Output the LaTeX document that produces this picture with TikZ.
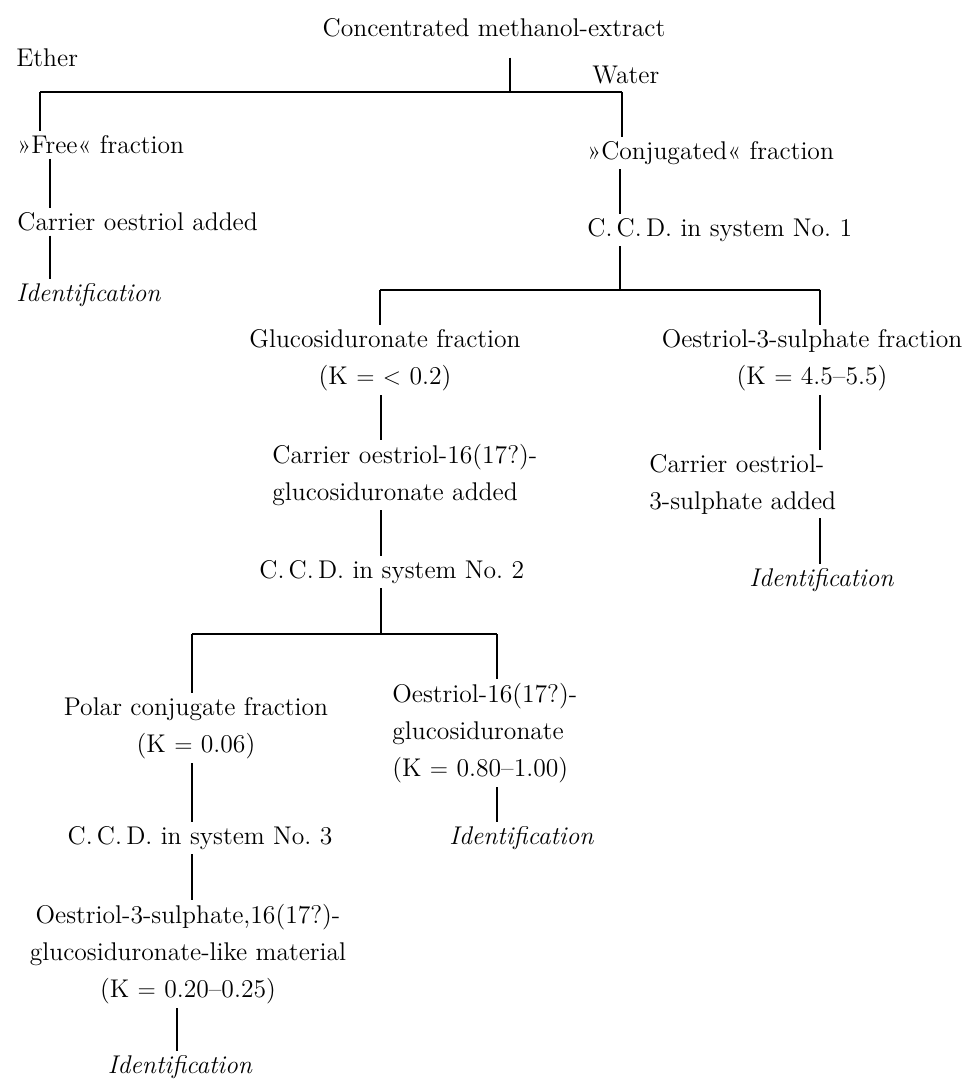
\documentclass[tikz,border=0pt]{standalone}
\usepackage{fontspec}
\newcommand\dgfont{\fontsize{12.8}{18.5}\selectfont}
\begin{document}
\begin{tikzpicture}[x=0.5pt,y=-0.5pt,
  txt/.style={inner sep=2pt, font=\dgfont, align=center},
  txtl/.style={inner sep=2pt, font=\dgfont, align=left, anchor=west},
  idf/.style={inner sep=2pt, font=\dgfont\itshape},
  conn/.style={line width=0.7pt},
  bus/.style={line width=1pt}]
\useasboundingbox (0,0) rectangle (965,1079);

% text nodes
\node[txt] (cme) at (494,28) {Concentrated methanol-extract};
\node[txtl] (ether) at (12,58) {Ether};
\node[txtl] (water) at (588,75) {Water};
\node[txtl] (free) at (13,145) {»Free« fraction};
\node[txtl] (carr) at (13,222) {Carrier oestriol added};
\node[idf, anchor=west] (id1) at (12,295) {Identification};
\node[txtl] (conj) at (583,153) {»Conjugated« fraction};
\node[txtl] (ccd1) at (583,230) {C.\,C.\,D. in system No.~1};
\node[txt] (gluc) at (385,360) {Glucosiduronate fraction\\(K $=$ $<$ 0.2)};
\node[txt] (sulf) at (812,360) {Oestriol-3-sulphate fraction\\(K $=$ 4.5--5.5)};
\node[txtl] (carr2) at (268,475) {Carrier oestriol-16(17?)-\\glucosiduronate added};
\node[txtl] (carr3) at (645,484) {Carrier oestriol-\\3-sulphate added};
\node[idf, anchor=west] (id2) at (745,580) {Identification};
\node[txtl] (ccd2) at (255,572) {C.\,C.\,D. in system No.~2};
\node[txt] (polar) at (196,728) {Polar conjugate fraction\\(K $=$ 0.06)};
\node[txtl] (oeg) at (388,733) {Oestriol-16(17?)-\\glucosiduronate\\(K $=$ 0.80--1.00)};
\node[idf, anchor=west] (id3) at (445,838) {Identification};
\node[txt] (ccd3) at (200,838) {C.\,C.\,D. in system No.~3};
\node[txt] (mat) at (188,954) {Oestriol-3-sulphate,16(17?)-\\glucosiduronate-like material\\(K $=$ 0.20--0.25)};
\node[idf] (id4) at (180,1067) {Identification};

% junctions and columns
\coordinate (j1) at (510,92);
\coordinate (j1l) at (40,92);
\coordinate (j1r) at (622,92);
\coordinate (j2) at (620,290);
\coordinate (j2l) at (380,290);
\coordinate (j2r) at (820,290);
\coordinate (j3) at (381,634);
\coordinate (j3l) at (192,634);
\coordinate (j3r) at (497,634);
\coordinate (xA) at (50,0);
\coordinate (xB) at (620,0);
\coordinate (xC) at (381,0);
\coordinate (xD) at (192,0);
\coordinate (xE) at (177,0);
\coordinate (xF) at (497,0);
\coordinate (xG) at (820,0);

% connectors
\draw[conn] ([yshift=-8pt]cme.south -| j1) -- (j1);
\draw[bus] (j1l) -- (j1r);
\draw[conn] (j1l) -- (free.north -| j1l);
\draw[conn] (j1r) -- (conj.north -| j1r);
\draw[conn] (free.south -| xA) -- (carr.north -| xA);
\draw[conn] (carr.south -| xA) -- (id1.north -| xA);
\draw[conn] (conj.south -| xB) -- (ccd1.north -| xB);
\draw[conn] (ccd1.south -| xB) -- (j2);
\draw[bus] (j2l) -- (j2r);
\draw[conn] (j2l) -- (gluc.north -| j2l);
\draw[conn] (j2r) -- (sulf.north -| j2r);
\draw[conn] (gluc.south -| xC) -- (carr2.north -| xC);
\draw[conn] (carr2.south -| xC) -- (ccd2.north -| xC);
\draw[conn] (ccd2.south -| xC) -- (j3);
\draw[bus] (j3l) -- (j3r);
\draw[conn] (j3l) -- (polar.north -| j3l);
\draw[conn] (j3r) -- (oeg.north -| j3r);
\draw[conn] (polar.south -| xD) -- (ccd3.north -| xD);
\draw[conn] (ccd3.south -| xD) -- (mat.north -| xD);
\draw[conn] (mat.south -| xE) -- (id4.north -| xE);
\draw[conn] (oeg.south -| xF) -- (id3.north -| xF);
\draw[conn] (sulf.south -| xG) -- (carr3.north -| xG);
\draw[conn] (carr3.south -| xG) -- (id2.north -| xG);
\end{tikzpicture}
\end{document}
